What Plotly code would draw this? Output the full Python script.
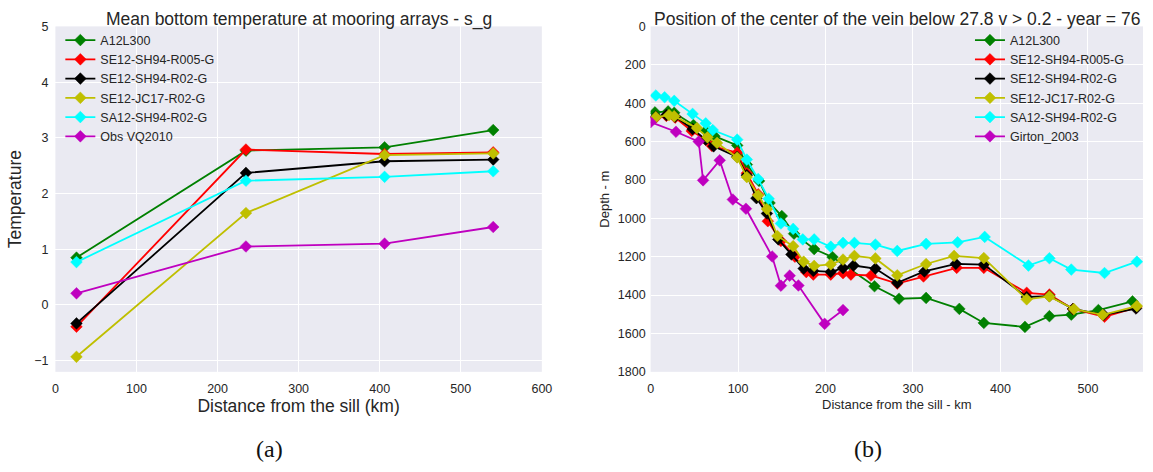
import plotly.graph_objects as go

W, H = 1153, 472

# ---- Panel (a): mean bottom temperature at mooring arrays ----
mooring_km = [26, 235, 406, 540]
temp_a12l300 = [0.85, 2.77, 2.83, 3.14]
temp_se12_r005 = [-0.39, 2.79, 2.71, 2.74]
temp_se12_r02 = [-0.33, 2.37, 2.58, 2.61]
temp_se12_jc17 = [-0.93, 1.65, 2.69, 2.72]
temp_sa12_r02 = [0.77, 2.23, 2.30, 2.40]
temp_obs_vq2010 = [0.21, 1.05, 1.10, 1.40]

# ---- Panel (b): depth of the vein centre along the overflow ----
a12_km = [5, 20, 27, 49, 63, 73, 99, 110, 124, 136, 150, 164, 187, 208,
          256, 284, 315, 353, 381, 428, 456, 481, 512, 551]
a12_depth = [448, 443, 450, 514, 545, 572, 620, 720, 805, 920, 988, 1080, 1160, 1202,
             1354, 1419, 1415, 1472, 1545, 1566, 1510, 1502, 1478, 1433]

r005_km = [6, 18, 28, 47, 63, 70, 99, 110, 123, 134, 149, 165, 178, 186, 206,
           220, 229, 252, 282, 312, 350, 381, 430, 456, 483, 519, 555]
r005_depth = [475, 466, 475, 545, 590, 622, 658, 765, 875, 1015, 1118, 1200, 1280, 1293, 1293,
              1286, 1293, 1298, 1340, 1303, 1258, 1258, 1388, 1397, 1472, 1513, 1466]

r02_km = [6, 18, 28, 48, 63, 72, 99, 110, 121, 133, 146, 161, 175, 186, 206,
          220, 232, 257, 282, 313, 349, 381, 430, 456, 483, 518, 555]
r02_depth = [470, 462, 470, 535, 590, 625, 680, 775, 895, 975, 1110, 1188, 1262, 1274, 1279,
             1259, 1246, 1262, 1336, 1277, 1237, 1241, 1410, 1405, 1472, 1503, 1470]

jc17_km = [6, 21, 27, 53, 65, 76, 99, 110, 123, 133, 145, 163, 175, 187, 206,
           220, 233, 257, 282, 315, 347, 381, 430, 456, 484, 517, 556]
jc17_depth = [473, 462, 468, 530, 578, 607, 683, 785, 880, 952, 1092, 1145, 1226, 1248, 1240,
              1215, 1196, 1209, 1297, 1238, 1196, 1207, 1422, 1407, 1473, 1503, 1457]

sa12_km = [6, 16, 27, 48, 63, 71, 99, 110, 123, 135, 149, 163, 174, 187, 206,
           220, 233, 257, 282, 315, 351, 382, 432, 456, 481, 519, 556]
sa12_depth = [360, 369, 388, 456, 505, 540, 590, 694, 795, 898, 1027, 1055, 1110, 1110, 1148,
              1128, 1128, 1137, 1170, 1133, 1125, 1097, 1246, 1208, 1267, 1285, 1226]

girton_km = [0, 29, 55, 60, 79, 94, 109, 139, 149, 159, 169, 199, 220]
girton_depth = [499, 549, 600, 802, 698, 902, 950, 1199, 1351, 1299, 1350, 1550, 1478]

names = ["A12L300", "SE12-SH94-R005-G", "SE12-SH94-R02-G",
         "SE12-JC17-R02-G", "SA12-SH94-R02-G"]
colors = ["#008000", "#FF0000", "#000000", "#BFBF00", "#00FFFF"]
obs_color = "#BF00BF"

FONT = "Liberation Sans"
TXT = "#262626"
BG = "#EAEAF2"

fig = go.Figure()


def add_series(x, y, name, color, xa, ya, legend):
    fig.add_trace(go.Scatter(
        x=x, y=y, name=name, mode="lines+markers",
        line=dict(color=color, width=1.8),
        marker=dict(symbol="diamond", size=9, color=color,
                    line=dict(color=color, width=0.5)),
        xaxis=xa, yaxis=ya, legend=legend,
    ))


left_series = [temp_a12l300, temp_se12_r005, temp_se12_r02, temp_se12_jc17, temp_sa12_r02]
for vals, nm, col in zip(left_series, names, colors):
    add_series(mooring_km, vals, nm, col, "x", "y", "legend")
add_series(mooring_km, temp_obs_vq2010, "Obs VQ2010", obs_color, "x", "y", "legend")

right_x = [a12_km, r005_km, r02_km, jc17_km, sa12_km]
right_y = [a12_depth, r005_depth, r02_depth, jc17_depth, sa12_depth]
for xs, ys, nm, col in zip(right_x, right_y, names, colors):
    add_series(xs, ys, nm, col, "x2", "y2", "legend2")
add_series(girton_km, girton_depth, "Girton_2003", obs_color, "x2", "y2", "legend2")

y_bot = 1 - 376 / H
y_top = 1 - 20 / H

axis_common = dict(
    showgrid=True, gridcolor="white", gridwidth=1, zeroline=False,
    showline=False, ticks="", tickfont=dict(family=FONT, size=12.5, color=TXT),
)

legend_common = dict(
    bgcolor="rgba(0,0,0,0)", borderwidth=0,
    font=dict(family=FONT, size=12.5, color=TXT),
    xanchor="left", yanchor="top", tracegroupgap=0,
)

fig.update_layout(
    width=W, height=H,
    margin=dict(l=0, r=0, t=0, b=0),
    paper_bgcolor="white", plot_bgcolor=BG,
    showlegend=True,
    xaxis=dict(domain=[53 / W, 545 / W], range=[0, 600], tickvals=list(range(0, 601, 100)),
               anchor="y", ticklabelstandoff=8,
               title=dict(text="Distance from the sill (km)",
                          font=dict(family=FONT, size=17.5, color=TXT), standoff=3),
               **axis_common),
    yaxis=dict(domain=[y_bot, y_top], range=[-1.2, 5], tickvals=list(range(-1, 6)),
               anchor="x", ticklabelstandoff=6,
               title=dict(text="Temperature",
                          font=dict(family=FONT, size=17.5, color=TXT), standoff=8),
               **axis_common),
    xaxis2=dict(domain=[655 / W, 1.0], range=[0, 563], tickvals=list(range(0, 501, 100)),
                anchor="y2", ticklabelstandoff=8,
                title=dict(text="Distance from the sill - km",
                           font=dict(family=FONT, size=13, color=TXT), standoff=4),
                **axis_common),
    yaxis2=dict(domain=[y_bot, y_top], range=[1800, 0], tickvals=list(range(0, 1801, 200)),
                anchor="x2", ticklabelstandoff=4,
                title=dict(text="Depth - m",
                           font=dict(family=FONT, size=13, color=TXT), standoff=5),
                **axis_common),
    legend=dict(x=58 / W, y=1 - 19 / H, **legend_common),
    legend2=dict(x=978 / W, y=1 - 19 / H, **legend_common),
)

annotations = [
    dict(text="Mean bottom temperature at mooring arrays - s_g", x=299 / W, y=1.0,
         yanchor="top", font=dict(family=FONT, size=17.5, color=TXT)),
    dict(text="Position of the center of the vein below 27.8 v > 0.2 - year = 76",
         x=904 / W, y=1.0, yanchor="top", font=dict(family=FONT, size=17.5, color=TXT)),
    dict(text="(a)", x=270 / W, y=1 - 456 / H, yanchor="middle",
         font=dict(family="Liberation Serif", size=24, color="#111111")),
    dict(text="(b)", x=875 / W, y=1 - 456 / H, yanchor="middle",
         font=dict(family="Liberation Serif", size=24, color="#111111")),
]
for a in annotations:
    fig.add_annotation(xref="paper", yref="paper", showarrow=False,
                       xanchor="center", **a)

fig.write_html("out.html")
